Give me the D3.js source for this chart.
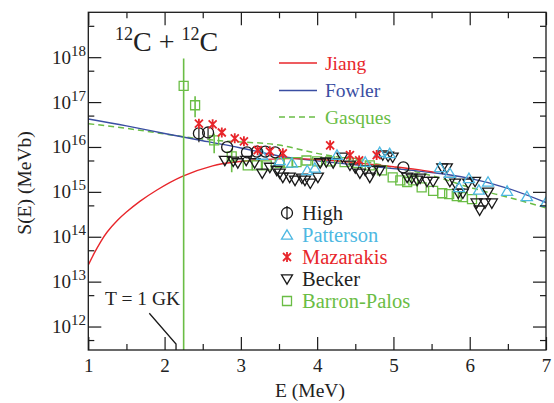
<!DOCTYPE html>
<html><head><meta charset="utf-8">
<script src="https://cdn.jsdelivr.net/npm/d3@7"></script>
<style>
body{margin:0;background:#fff}
svg{display:block}
text{font-family:"Liberation Serif","Tinos","Nimbus Roman","Times New Roman","DejaVu Serif",serif;fill:#222}
</style>
</head><body>
<svg id="c" width="554" height="403"></svg>
<script>
// ---------- data ----------
const xMajor = [1,2,3,4,5,6,7];
const xMinor = [1.5,2.5,3.5,4.5,5.5,6.5];
const yMajorExp = [12,13,14,15,16,17,18];
const yMinor = [5e11,5e12,5e13,5e14,5e15,5e16,5e17,5e18];

// curves
const jiangE = [1.0,1.08,1.16,1.25,1.38,1.5,1.68,1.9,2.24,2.63,2.9,3.2,3.6,4.0,4.5,5.0,5.3,5.55];
const jiangS = [2.34e13,4.37e13,7.6e13,1.29e14,2.29e14,3.55e14,6.2e14,1.10e15,2.24e15,3.8e15,4.57e15,5.13e15,5.5e15,5.25e15,4.47e15,3.63e15,3.16e15,2.69e15];
const fowlerE = [1.0,1.5,2.0,2.5,3.0,3.5,4.0,4.5,5.0,5.5,6.0,6.5,7.0];
const fowlerS = [4.2e16,2.95e16,2.0e16,1.38e16,9.5e15,6.3e15,4.9e15,4.0e15,3.3e15,2.7e15,2.0e15,1.2e15,5.8e14];
const gasquesE = [1.0,1.5,2.0,2.5,3.0,3.5,4.0,4.5,5.0,5.5,6.0,6.5,7.0];
const gasquesS = [3.3e16,2.6e16,1.95e16,1.5e16,1.29e16,1.1e16,7.2e15,5.2e15,3.5e15,2.3e15,1.26e15,7.6e14,4.4e14];

// data sets
const highE = [2.45,2.57,2.82,3.08,3.21,3.32,3.45,5.13];
const highS = [2.0e16,2.1e16,9.9e15,7.6e15,7.9e15,7.9e15,7.6e15,3.5e15];
const highErrE = [2.45,2.57];
const highErrLo = [1.27e16,1.6e16];
const highErrHi = [2.6e16,2.7e16];

const pattE = [3.28,3.51,3.67,3.87,3.97,4.26,4.63,4.82,4.95,5.61,5.74,5.86,5.99,6.12,6.24,6.49,6.75,7.0];
const pattS = [6.6e15,5.0e15,4.4e15,3.0e15,3.4e15,6.6e15,4.6e15,7.6e15,7.2e15,3.5e15,2.6e15,1.26e15,2.0e15,1.1e15,1.66e15,1.04e15,7.9e14,5.9e14];

const mazE = [2.45,2.63,2.75,2.92,3.04,3.22,3.38,3.55,4.17,4.43,4.55,4.78];
const mazS = [3.3e16,3.2e16,2.1e16,1.56e16,1.34e16,8.5e15,8.0e15,7.2e15,1.09e16,6.6e15,5.0e15,6.6e15];

const beckE = [2.79,2.90,2.96,3.07,3.18,3.28,3.38,3.47,3.51,3.55,3.64,3.71,3.80,3.84,3.91,4.01,4.04,4.12,4.21,4.33,4.43,4.50,4.56,4.63,4.69,4.73,4.82,4.86,4.93,4.99,5.18,5.24,5.31,5.35,5.44,5.52,5.64,5.70,5.74,5.81,5.85,5.91,5.98,6.07,6.09,6.13,6.20,6.29,6.24];
const beckS = [5.0e15,4.8e15,4.4e15,5.0e15,4.4e15,2.6e15,3.5e15,3.0e15,2.6e15,2.1e15,2.1e15,1.8e15,2.0e15,1.8e15,1.55e15,2.1e15,4.4e15,4.6e15,4.4e15,5.9e15,3.9e15,3.4e15,2.6e15,3.0e15,2.1e15,3.0e15,3.0e15,6.6e15,6.2e15,5.9e15,2.1e15,2.0e15,1.8e15,2.0e15,1.7e15,1.7e15,3.4e15,3.4e15,1.7e15,1.55e15,9.3e14,9.3e14,1.55e15,1.7e15,5.6e14,3.9e14,5.6e14,5.6e14,9.8e14];

const bpE = [2.25,2.40,2.65,2.88,3.09,3.21,3.34,3.51,3.62,3.73,3.86,4.00,4.17,4.36,4.53,4.69,4.85,4.99,5.09,5.18,5.26,5.37,5.52,5.64,5.73,5.83,5.91,6.03];
const bpS = [2.3e17,8.5e16,1.4e16,6.2e15,3.9e15,3.9e15,3.9e15,4.4e15,4.4e15,4.6e15,5.0e15,4.8e15,4.8e15,4.6e15,4.4e15,3.9e15,3.0e15,2.1e15,1.8e15,1.66e15,1.8e15,1.26e15,1.05e15,9.3e14,8.9e14,8.0e14,7.6e14,6.9e14];
const bpErrE = [2.25,2.40,2.65,2.88];
const bpErrLo = [1e11,4.6e16,7.2e15,2.75e15];
const bpErrHi = [9.3e17,1.35e17,2.0e16,9.3e15];

const tempE = 2.15;
const curveLabels = ["Jiang","Fowler","Gasques"];
const dataLabels = ["High","Patterson","Mazarakis","Becker","Barron-Palos"];

// ---------- styles ----------
const RED="#e8262b", BLUE="#3a4ea2", GREEN="#6abd45", CYAN="#4db8e2", BLACK="#1a1a1a";
const FONT='"Liberation Serif","Tinos","Nimbus Roman","Times New Roman","DejaVu Serif",serif';

const svg = d3.select("#c");
const x = d3.scaleLinear().domain([1,7]).range([88.3,546]);
const y = d3.scaleLog().domain([3e11,1e19]).range([350,12.3]);
const X0=x.range()[0], X1=x.range()[1], Y0=y.range()[1], Y1=y.range()[0];

svg.append("clipPath").attr("id","clip").append("rect")
  .attr("x",X0).attr("y",Y0).attr("width",X1-X0).attr("height",Y1-Y0);
const plot = svg.append("g").attr("clip-path","url(#clip)");

const zip=(a,b)=>a.map((v,i)=>[v,b[i]]);
const line = d3.line().x(d=>x(d[0])).y(d=>y(d[1])).curve(d3.curveNatural);

// curves
plot.append("path").attr("d",line(zip(gasquesE,gasquesS))).attr("fill","none")
  .attr("stroke",GREEN).attr("stroke-width",1.5).attr("stroke-dasharray","6,4");
plot.append("path").attr("d",line(zip(fowlerE,fowlerS))).attr("fill","none")
  .attr("stroke",BLUE).attr("stroke-width",1.4);
plot.append("path").attr("d",line(zip(jiangE,jiangS))).attr("fill","none")
  .attr("stroke",RED).attr("stroke-width",1.4);

// error bars
function errBars(E,lo,hi,color,w){
  plot.selectAll(null).data(E.map((e,i)=>({e,lo:lo[i],hi:hi[i]}))).enter().append("line")
    .attr("x1",d=>x(d.e)).attr("x2",d=>x(d.e)).attr("y1",d=>y(d.lo)).attr("y2",d=>y(d.hi))
    .attr("stroke",color).attr("stroke-width",w);
}
errBars(bpErrE,bpErrLo,bpErrHi,GREEN,1.6);
errBars(highErrE,highErrLo,highErrHi,BLACK,1.2);

// marker shapes
const shapes = {
  square:"M-4.5,-4.5H4.5V4.5H-4.5Z",
  tdown:"M-5.5,-4.2H5.5L0,5.2Z",
  tup:"M0,-5.2L5.5,4.2H-5.5Z",
  star:"M-4,-4L4,4M4,-4L-4,4M0,-5V5"
};
function markers(E,S,kind,color){
  const g = plot.append("g");
  const sel = g.selectAll(null).data(zip(E,S)).enter();
  if(kind==="circle"){
    sel.append("circle").attr("cx",d=>x(d[0])).attr("cy",d=>y(d[1])).attr("r",5.5)
      .attr("fill","none").attr("stroke",color).attr("stroke-width",1.3);
  } else {
    sel.append("path").attr("d",shapes[kind])
      .attr("transform",d=>`translate(${x(d[0])},${y(d[1])})`)
      .attr("fill","none").attr("stroke",color).attr("stroke-width",kind==="star"?1.8:1.3);
  }
}
markers(bpE,bpS,"square",GREEN);
markers(beckE,beckS,"tdown",BLACK);
markers(pattE,pattS,"tup",CYAN);
markers(highE,highS,"circle",BLACK);
markers(mazE,mazS,"star",RED);

// axes
function styleAxis(g){
  g.select(".domain").remove();
  g.selectAll(".tick line").attr("stroke",BLACK).attr("stroke-width",1.2);
  g.selectAll("text").attr("font-size",19).attr("fill","#222").attr("font-family",FONT);
}
svg.append("g").attr("transform",`translate(0,${Y1})`)
  .call(d3.axisBottom(x).tickValues(xMajor).tickSize(-13).tickPadding(9).tickFormat(d3.format("d"))).call(styleAxis);
svg.append("g").attr("transform",`translate(0,${Y1})`)
  .call(d3.axisBottom(x).tickValues(xMinor).tickSize(-6).tickFormat("")).call(styleAxis);
svg.append("g").attr("transform",`translate(0,${Y0})`)
  .call(d3.axisTop(x).tickValues(xMajor).tickSize(-13).tickFormat("")).call(styleAxis);
svg.append("g").attr("transform",`translate(0,${Y0})`)
  .call(d3.axisTop(x).tickValues(xMinor).tickSize(-6).tickFormat("")).call(styleAxis);
const yMajor = yMajorExp.map(e=>Math.pow(10,e));
svg.append("g").attr("transform",`translate(${X0},0)`)
  .call(d3.axisLeft(y).tickValues(yMajor).tickSize(-13).tickFormat("")).call(styleAxis);
svg.append("g").attr("transform",`translate(${X0},0)`)
  .call(d3.axisLeft(y).tickValues(yMinor).tickSize(-6).tickFormat("")).call(styleAxis);
svg.append("g").attr("transform",`translate(${X1},0)`)
  .call(d3.axisRight(y).tickValues(yMajor).tickSize(-13).tickFormat("")).call(styleAxis);
svg.append("g").attr("transform",`translate(${X1},0)`)
  .call(d3.axisRight(y).tickValues(yMinor).tickSize(-6).tickFormat("")).call(styleAxis);

// frame
svg.append("rect").attr("x",X0).attr("y",Y0).attr("width",X1-X0).attr("height",Y1-Y0)
  .attr("fill","none").attr("stroke",BLACK).attr("stroke-width",1.3);

// y tick labels
yMajorExp.forEach(e=>{
  const t = svg.append("text").attr("x",86).attr("y",y(Math.pow(10,e))+6.5)
    .attr("text-anchor","end").attr("font-size",19).attr("font-family",FONT);
  t.append("tspan").text("10");
  t.append("tspan").attr("font-size",15).attr("dy",-8).text(e);
});

// axis titles
svg.append("text").attr("x",310).attr("y",397).attr("text-anchor","middle")
  .attr("font-size",19.5).attr("font-family",FONT).text("E (MeV)");
svg.append("text").attr("transform","translate(31,183) rotate(-90)").attr("text-anchor","middle")
  .attr("font-size",19.5).attr("font-family",FONT).text("S(E) (MeVb)");

// title
const title = svg.append("text").attr("x",115).attr("y",51).attr("font-size",28).attr("font-family",FONT);
title.append("tspan").attr("font-size",18).attr("dy",-11).text("12");
title.append("tspan").attr("dy",11).text("C + ");
title.append("tspan").attr("font-size",18).attr("dy",-11).text("12");
title.append("tspan").attr("dy",11).text("C");

// T = 1 GK annotation
svg.append("text").attr("x",105).attr("y",305).attr("font-size",19.5).attr("font-family",FONT).text("T = 1 GK");
svg.append("path").attr("d",`M149.3,313.3L${x(tempE)},344L${x(tempE)},${Y1}`)
  .attr("fill","none").attr("stroke",BLACK).attr("stroke-width",1.3);

// legend 1 (curves)
const curveColors=[RED,BLUE,GREEN], curveDash=[null,null,"6,4"], curveY=[63,90.5,117];
curveLabels.forEach((lab,i)=>{
  svg.append("line").attr("x1",279).attr("x2",317).attr("y1",curveY[i]).attr("y2",curveY[i])
    .attr("stroke",curveColors[i]).attr("stroke-width",1.5).attr("stroke-dasharray",curveDash[i]);
  svg.append("text").attr("x",325).attr("y",curveY[i]+6.5).attr("font-size",19.5).attr("font-family",FONT)
    .style("fill",curveColors[i]).text(lab);
});

// legend 2 (data)
const dataKinds=["circle","tup","star","tdown","square"];
const dataColors=[BLACK,CYAN,RED,BLACK,GREEN];
const dataTextColors=["#222",CYAN,RED,"#222",GREEN];
dataLabels.forEach((lab,i)=>{
  const cy = 213 + i*22, cx = 287;
  if(dataKinds[i]==="circle"){
    svg.append("circle").attr("cx",cx).attr("cy",cy).attr("r",5.5).attr("fill","none")
      .attr("stroke",BLACK).attr("stroke-width",1.3);
    svg.append("line").attr("x1",cx).attr("x2",cx).attr("y1",cy-7).attr("y2",cy+7)
      .attr("stroke",BLACK).attr("stroke-width",1.2);
  } else {
    svg.append("path").attr("d",shapes[dataKinds[i]]).attr("transform",`translate(${cx},${cy})`)
      .attr("fill","none").attr("stroke",dataColors[i]).attr("stroke-width",dataKinds[i]==="star"?1.8:1.3);
  }
  svg.append("text").attr("x",302).attr("y",cy+6.5).attr("font-size",20.5).attr("font-family",FONT)
    .style("fill",dataTextColors[i]).text(lab);
});
</script>
</body></html>
